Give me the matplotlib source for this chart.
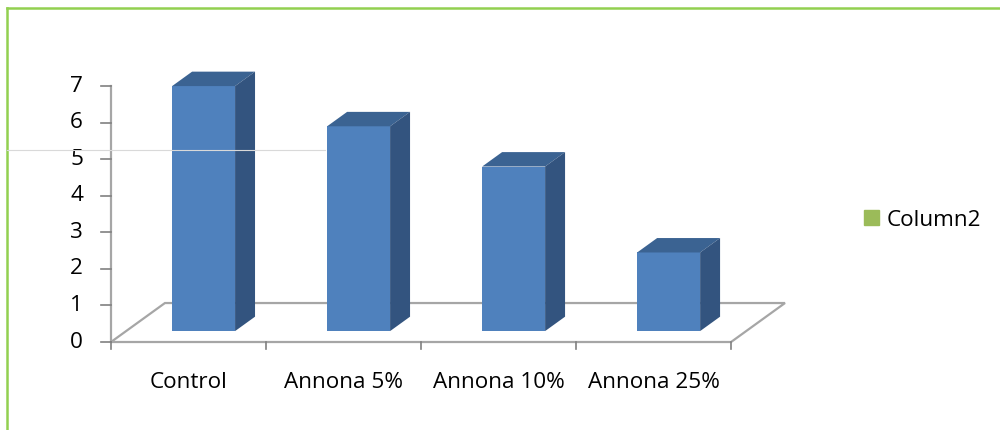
import matplotlib
matplotlib.use("Agg")
import matplotlib.pyplot as plt
from matplotlib.patches import Polygon, Patch
from matplotlib.lines import Line2D
import numpy as np

categories = ["Control", "Annona 5%", "Annona 10%", "Annona 25%"]
values = [6.7, 5.6, 4.5, 2.15]
series_name = "Column2"
y_ticks = [0, 1, 2, 3, 4, 5, 6, 7]

front_col = "#4F81BD"
top_col = "#3B6392"
side_col = "#33547F"
edge_col = "#A6A6A6"
legend_col = "#9BBB59"
frame_col = "#92D050"
fs = 16.2

plt.rcParams['font.family'] = ['Open Sans', 'DejaVu Sans']

fig = plt.figure(figsize=(10, 4.3), dpi=100)
ax = fig.add_axes([0, 0, 1, 1])
ax.set_xlim(-0.716, 5.735)
ax.set_ylim(-2.406, 9.352)
ax.axis("off")

# oblique depth of the floor; bars occupy depth fraction f0..f1
depth = np.array([0.348, 1.066])
f0, f1 = 0.28, 0.65
bar_w = 0.406
n = len(categories)

floor = Polygon([(0, 0), (n, 0), (n + depth[0], depth[1]), (depth[0], depth[1])],
                closed=True, fc="white", ec=edge_col, lw=1.6, zorder=1)
ax.add_patch(floor)

# value axis on the left
ax.plot([0, 0], [0, max(y_ticks)], color=edge_col, lw=1.6, zorder=1)
for t in y_ticks:
    ax.plot([-0.065, 0], [t, t], color="#808080", lw=1.2, zorder=1)
    ax.text(-0.18, t, str(t), ha="right", va="center", fontsize=fs, color="black")

# category ticks and labels
for i in range(n + 1):
    ax.plot([i, i], [0, -0.2], color="#808080", lw=1.2, zorder=1)
for i, c in enumerate(categories):
    ax.text(i + 0.5, -1.12, c, ha="center", va="center", fontsize=fs, color="black")

# bars: front face, then top and side
base = f0 * depth[1]
xc = np.arange(n) + 0.5 + f0 * depth[0]
ax.bar(xc, values, width=bar_w, bottom=base, color=front_col, zorder=3)
dd = (f1 - f0) * depth
for x, v in zip(xc, values):
    xl, xr = x - bar_w / 2, x + bar_w / 2
    yt = base + v
    ax.add_patch(Polygon([(xl, yt), (xr, yt), (xr + dd[0], yt + dd[1]), (xl + dd[0], yt + dd[1])],
                         closed=True, fc=top_col, ec="none", zorder=3))
    ax.add_patch(Polygon([(xr, base), (xr, yt), (xr + dd[0], yt + dd[1]), (xr + dd[0], base + dd[1])],
                         closed=True, fc=side_col, ec="none", zorder=3))

ax.legend(handles=[Patch(color=legend_col, label=series_name)], loc="center left",
          bbox_to_anchor=(0.864, 1 - 220 / 430), frameon=False, fontsize=fs,
          handlelength=0.65, handleheight=0.65, handletextpad=0.35, borderpad=0, borderaxespad=0)

# outer frame and stray guide line
fig.add_artist(Line2D([0.007, 0.007], [0, 1 - 8 / 430], color=frame_col, lw=1.8))
fig.add_artist(Line2D([0.007, 1], [1 - 8 / 430, 1 - 8 / 430], color=frame_col, lw=1.8))
fig.add_artist(Line2D([0.007, 0.325], [1 - 150 / 430, 1 - 150 / 430], color="#D9D9D9", lw=0.8))

fig.savefig("out.png", dpi=100)
